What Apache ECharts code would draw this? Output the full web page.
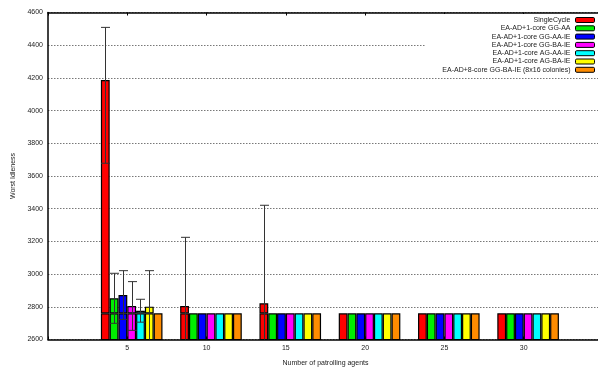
<!DOCTYPE html>
<html>
<head>
<meta charset="utf-8">
<script src="https://cdn.jsdelivr.net/npm/echarts@6/dist/echarts.min.js"></script>
<style>html,body{margin:0;padding:0;background:#fff}#c{width:598px;height:368px}</style>
</head>
<body>
<div id="c"></div>
<script>
// ---- data ----
const agents = ['5', '10', '15', '20', '25', '30'];
const baseLevel = 2760;
const seriesNames = [
  'SingleCycle',
  'EA-AD+1-core GG-AA',
  'EA-AD+1-core GG-AA-IE',
  'EA-AD+1-core GG-BA-IE',
  'EA-AD+1-core AG-AA-IE',
  'EA-AD+1-core AG-BA-IE',
  'EA-AD+8-core GG-BA-IE (8x16 colonies)'
];
const singleCycle = [4187, 2805, 2821, 2760, 2760, 2760];
const ggAA       = [2852, 2760, 2760, 2760, 2760, 2760];
const ggAAIE     = [2872, 2760, 2760, 2760, 2760, 2760];
const ggBAIE     = [2805, 2760, 2760, 2760, 2760, 2760];
const agAAIE     = [2776, 2760, 2760, 2760, 2760, 2760];
const agBAIE     = [2801, 2760, 2760, 2760, 2760, 2760];
const core8      = [2760, 2760, 2760, 2760, 2760, 2760];
// error bars (low / high), null = none
const singleCycleLow  = [3678, 2385, 2221, null, null, null];
const singleCycleHigh = [4509, 3225, 3421, null, null, null];
const ggAALow   = [2699, null, null, null, null, null];
const ggAAHigh  = [3005, null, null, null, null, null];
const ggAAIELow = [2723, null, null, null, null, null];
const ggAAIEHigh= [3021, null, null, null, null, null];
const ggBAIELow = [2656, null, null, null, null, null];
const ggBAIEHigh= [2954, null, null, null, null, null];
const agAAIELow = [2706, null, null, null, null, null];
const agAAIEHigh= [2846, null, null, null, null, null];
const agBAIELow = [2581, null, null, null, null, null];
const agBAIEHigh= [3021, null, null, null, null, null];
const yTicks = [2600, 2800, 3000, 3200, 3400, 3600, 3800, 4000, 4200, 4400, 4600];

const values = [singleCycle, ggAA, ggAAIE, ggBAIE, agAAIE, agBAIE, core8];
const none = [null, null, null, null, null, null];
const lows  = [singleCycleLow, ggAALow, ggAAIELow, ggBAIELow, agAAIELow, agBAIELow, none];
const highs = [singleCycleHigh, ggAAHigh, ggAAIEHigh, ggBAIEHigh, agAAIEHigh, agBAIEHigh, none];
const colors = ['#ff0000', '#00ee00', '#0000ff', '#ff00ff', '#00ffff', '#ffff00', '#ff8c00'];

// axis categories: an empty slot on each side of the agent counts
const categories = [''].concat(agents, ['']);

const BW = 8.8;
const yMin = yTicks[0], yMax = yTicks[yTicks.length - 1];
const font = 'Liberation Sans, Arial, sans-serif';
const pad = v => [null].concat(v, [null]);

const series = [];
// placeholder column so that the cluster sits like the original
series.push({
  type: 'bar', name: '_pad', stack: 'pad', barWidth: BW, barGap: '0%',
  data: pad(none), silent: true
});
values.forEach((vals, i) => {
  const st = { color: colors[i], borderColor: '#000', borderWidth: 1.2 };
  series.push({
    type: 'bar', name: seriesNames[i], stack: 's' + i, barWidth: BW, barGap: '0%',
    itemStyle: st, z: 2,
    data: pad(vals.map(v => Math.min(v, baseLevel)))
  });
  series.push({
    type: 'bar', name: seriesNames[i], stack: 's' + i, barWidth: BW, barGap: '0%',
    itemStyle: st, z: 2,
    data: pad(vals.map(v => (v - baseLevel > 0 ? v - baseLevel : null)))
  });
});

// error bars
const errData = [];
values.forEach((vals, i) => {
  agents.forEach((a, j) => {
    if (highs[i][j] != null) errData.push([j + 1, i, lows[i][j], highs[i][j]]);
  });
});
series.push({
  type: 'custom', name: '_err', z: 5, silent: true,
  data: errData,
  renderItem: function (params, api) {
    const x = api.value(0), idx = api.value(1), lo = api.value(2), hi = api.value(3);
    const off = (idx - 2.5) * BW;
    const pHi = api.coord([x, hi]);
    const pLo = api.coord([x, lo]);
    const pBottom = api.coord([x, yMin]);
    const cx = Math.round(pHi[0] + off) + 0.5;
    const loY = Math.min(pLo[1], pBottom[1]);
    const ln = { stroke: '#333', lineWidth: 1 };
    const children = [
      { type: 'line', shape: { x1: cx, y1: pHi[1], x2: cx, y2: loY }, style: ln },
      { type: 'line', shape: { x1: cx - 4.5, y1: pHi[1], x2: cx + 4.5, y2: pHi[1] }, style: ln }
    ];
    if (pLo[1] < pBottom[1]) {
      children.push({ type: 'line', shape: { x1: cx - 4.5, y1: pLo[1], x2: cx + 4.5, y2: pLo[1] }, style: ln });
    }
    return { type: 'group', children: children };
  }
});

const chart = echarts.init(document.getElementById('c'), null, { renderer: 'canvas' });
chart.setOption({
  animation: false,
  backgroundColor: '#fff',
  textStyle: { fontFamily: font },
  grid: { left: 48, right: -5, top: 12.5, bottom: 28.5, containLabel: false, outerBoundsMode: 'none' },
  legend: {
    data: seriesNames,
    orient: 'vertical',
    right: 0,
    top: 14,
    align: 'right',
    itemWidth: 19,
    itemHeight: 5,
    itemGap: 0.3,
    padding: [2, 3, 1, 17],
    backgroundColor: '#fff',
    itemStyle: { borderColor: '#000', borderWidth: 1 },
    textStyle: { fontSize: 7, color: '#222', lineHeight: 8, fontFamily: font },
    selectedMode: false
  },
  xAxis: [{
    type: 'category', data: categories, boundaryGap: false,
    name: 'Number of patrolling agents', nameLocation: 'middle', nameGap: 20,
    nameTextStyle: { fontSize: 7, color: '#222' },
    axisLine: { show: true, lineStyle: { color: '#000', width: 1.5 } },
    axisTick: { show: true, inside: true, length: 3, lineStyle: { color: '#000' } },
    axisLabel: { fontSize: 7, color: '#222', margin: 5, interval: 0 },
    splitLine: { show: false }
  }, {
    type: 'category', data: categories, boundaryGap: false, position: 'top',
    axisLine: { show: true, lineStyle: { color: '#000', width: 1.5 } },
    axisTick: { show: true, inside: true, length: 3, interval: 0, lineStyle: { color: '#000' } },
    axisLabel: { show: false },
    splitLine: { show: false }
  }],
  yAxis: {
    type: 'value', min: yMin, max: yMax, interval: 200,
    name: 'Worst Idleness', nameLocation: 'middle', nameGap: 21,
    nameTextStyle: { fontSize: 7, color: '#222' },
    axisLine: { show: true, lineStyle: { color: '#000', width: 1.5 } },
    axisTick: { show: false },
    axisLabel: { fontSize: 7, color: '#222', margin: 5, formatter: v => String(v) },
    splitLine: { show: true, lineStyle: { color: '#555', width: 0.8, type: [1.5, 1.5] } }
  },
  series: series
});
</script>
</body>
</html>
